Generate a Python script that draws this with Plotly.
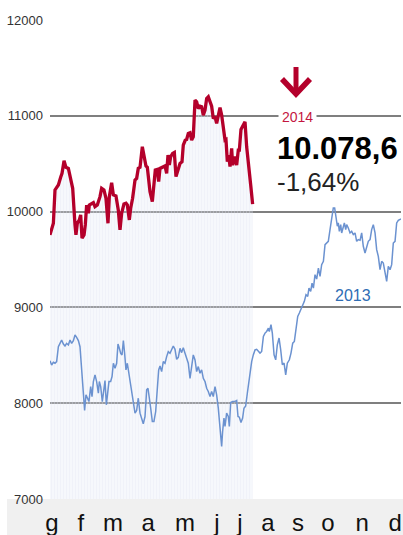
import plotly.graph_objects as go

# ---------------- data (day of year, index value) ----------------
days_2014 = [0.0, 3.5, 5.2, 6.9, 8.7, 11.1, 12.5, 14.6, 16.6, 19.1,
             21.5, 23.6, 26.0, 27.0, 28.4, 30.5, 31.9, 33.3, 35.4, 36.7,
             38.1, 39.9, 40.9, 43.3, 45.1, 46.8, 49.2, 52.0, 53.7, 56.1,
             58.2, 60.3, 61.7, 64.1, 65.9, 68.6, 71.0, 72.8, 74.5, 76.9,
             79.0, 80.4, 82.5, 83.9, 85.9, 88.4, 90.1, 91.8, 93.6, 96.0,
             97.7, 99.8, 101.2, 104.0, 106.4, 108.5, 109.5, 111.6, 113.0, 114.4,
             117.1, 119.6, 121.3, 122.7, 124.1, 125.5, 127.5, 129.3, 131.0, 133.1,
             135.2, 137.3, 138.6, 140.7, 142.1, 143.8, 145.6, 147.3, 149.0, 150.8,
             152.5, 154.2, 156.0, 157.7, 159.4, 161.2, 162.9, 164.6, 166.4, 168.1,
             169.8, 171.6, 173.3, 175.0, 176.8, 178.5, 180.2, 182.0, 183.0, 184.4,
             185.8, 187.2, 188.9, 189.9, 192.0, 194.1, 195.8, 196.9, 198.6, 201.0,
             202.8, 204.5, 206.6, 208.7, 210.7]
vals_2014 = [9757, 9878, 10226, 10260, 10278, 10358, 10399, 10531, 10462, 10451,
             10347, 10243, 9861, 9757, 9878, 9913, 9965, 9722, 9757, 9861,
             10069, 9983, 10069, 10087, 10094, 10052, 10069, 10156, 10243, 10226,
             10139, 9878, 10156, 10302, 10174, 10163, 10017, 9809, 9983, 10080,
             10087, 10069, 9913, 10035, 10139, 10330, 10347, 10451, 10462, 10677,
             10590, 10476, 10462, 10208, 10104, 10313, 10434, 10441, 10313, 10451,
             10462, 10476, 10399, 10590, 10486, 10573, 10608, 10618, 10365, 10434,
             10503, 10521, 10694, 10747, 10753, 10816, 10823, 10747, 10781, 11163,
             11146, 11076, 11100, 11094, 11007, 11059, 11181, 11198, 11146, 11100,
             10972, 10990, 10920, 11007, 11087, 11007, 10885, 10747, 10753, 10521,
             10590, 10469, 10660, 10486, 10573, 10486, 10642, 10642, 10858, 10903,
             10938, 10677, 10434, 10278, 10078.6]

days_2013 = [0.0, 1.7, 3.5, 5.2, 6.9, 8.7, 10.4, 12.1, 13.9, 15.6,
             17.3, 19.1, 20.8, 22.5, 24.3, 26.0, 27.7, 29.5, 31.2, 32.9,
             34.7, 36.0, 37.4, 38.8, 40.5, 42.3, 43.7, 45.1, 46.8, 48.5,
             50.3, 51.3, 52.7, 54.4, 56.1, 57.2, 58.6, 60.0, 61.3, 63.1,
             64.5, 65.9, 67.6, 69.3, 70.7, 72.1, 73.5, 74.9, 76.3, 77.6,
             79.0, 80.4, 81.8, 83.2, 84.9, 86.6, 88.4, 90.1, 91.8, 93.6,
             95.3, 97.0, 98.8, 100.5, 101.9, 103.3, 104.7, 106.4, 108.1, 109.9,
             111.6, 113.0, 114.4, 116.1, 117.8, 119.6, 121.3, 123.0, 124.8, 126.5,
             128.2, 130.0, 131.7, 133.4, 135.2, 136.9, 138.6, 140.4, 142.1, 143.8,
             145.6, 147.3, 149.0, 150.8, 152.5, 154.2, 156.0, 157.7, 159.4, 161.2,
             162.9, 164.6, 166.4, 168.1, 169.8, 171.6, 173.3, 175.0, 176.8, 178.5,
             179.5, 180.9, 182.0, 183.7, 185.4, 186.5, 187.9, 189.9, 192.0, 194.1,
             195.5, 196.9, 198.6, 200.3, 201.7, 203.5, 205.2, 207.3, 209.7, 211.4,
             213.2, 214.9, 216.6,
             218.4, 220.1, 221.9, 223.6, 225.3, 227.1, 228.1, 229.8, 231.2, 233.0,
             234.7, 236.4, 238.2, 239.9, 241.6, 243.4, 245.1, 246.8, 248.9, 250.6,
             252.4, 254.1, 255.8, 257.6, 259.3, 261.0, 262.8, 264.5, 266.2, 268.0,
             269.3, 271.1, 272.5, 273.9, 275.6, 277.3, 279.1, 280.8, 282.5, 284.3,
             286.0, 287.7, 289.4, 291.2, 292.9, 294.6, 296.0, 297.4, 298.8, 299.8,
             300.9, 302.3, 303.3, 304.7, 306.1, 307.5, 308.5, 310.2, 312.0, 313.7,
             315.4, 317.2, 318.9, 320.6, 322.4, 324.1, 325.8, 327.6, 329.3, 331.0,
             332.8, 334.5, 336.2, 338.0, 339.7, 341.4, 343.2, 344.9, 346.6, 348.4,
             350.1, 351.8, 353.6, 355.3, 357.0, 358.8, 360.5, 362.2, 365.0]
vals_2013 = [8444, 8399, 8427, 8417, 8434, 8590, 8625, 8660, 8618, 8597,
             8625, 8608, 8660, 8625, 8653, 8712, 8688, 8653, 8590, 8382,
             8104, 7924, 8087, 8052, 8017, 8174, 8069, 8226, 8295, 8226,
             8104, 8226, 8174, 8017, 8174, 8236, 7983, 8139, 8226, 8226,
             8278, 8417, 8365, 8417, 8618, 8573, 8521, 8504, 8653, 8521,
             8347, 8417, 8330, 8243, 8139, 8035, 7896, 7924, 8052, 7896,
             7826, 7785, 7861, 8139, 8156, 8069, 7948, 7809, 7809, 7913,
             8174, 8347, 8389, 8330, 8434, 8417, 8486, 8538, 8521, 8556,
             8597, 8562, 8458, 8479, 8573, 8528, 8580, 8521, 8469, 8417,
             8260, 8382, 8504, 8452, 8330, 8382, 8313, 8347, 8260, 8226,
             8156, 8122, 8069, 8122, 8069, 8174, 8087, 7948, 7740, 7549,
             7705, 7844, 7757, 7896, 7861, 7757, 8007, 8017, 8017, 8028,
             7861, 7854, 7799, 7844, 7948, 7972, 8104, 8260, 8434, 8504,
             8556, 8562, 8538,
             8523, 8540, 8697, 8732, 8749, 8784, 8749, 8819, 8732, 8505,
             8453, 8610, 8680, 8558, 8401, 8418, 8296, 8418, 8453, 8523,
             8627, 8645, 8784, 8906, 8941, 8976, 9028, 9063, 9132, 9115,
             9202, 9167, 9254, 9202, 9342, 9296, 9411, 9324, 9446, 9481,
             9655, 9672, 9690, 9812, 9951, 10038, 10038, 9951, 9847, 9882,
             9794, 9864, 9777, 9829, 9882, 9812, 9864, 9829, 9777, 9794,
             9760, 9777, 9690, 9707, 9700, 9777, 9638, 9568, 9620, 9690,
             9707, 9812, 9864, 9777, 9603, 9533, 9394, 9481, 9463, 9376,
             9272, 9429, 9394, 9446, 9672, 9690, 9882, 9909, 9923]

month_labels = ["g", "f", "m", "a", "m", "j", "j", "a", "s", "o", "n", "d"]
month_pos = [2, 32, 65.5, 102, 140.5, 173.5, 197.5, 226.5, 258, 289, 324.5, 359]
y_ticks = [7000, 8000, 9000, 10000, 11000, 12000]
change_text = "-1,64%"

# ---------------- layout constants ----------------
W, H = 403, 535
ML, MR, MT, MB = 50, 2, 20, 36
PW, PH = W - ML - MR, H - MT - MB

def pxx(x):
    return (x - ML) / PW

def pxy(y):
    return (H - MB - y) / PH

def fmt_it(v):
    s = f"{v:,.1f}"
    return s.replace(",", "X").replace(".", ",").replace("X", ".")

FONT = "Liberation Sans, Arial, Helvetica, sans-serif"
RED = "#b4002b"
BLUE = "#6b92d0"

fig = go.Figure()

# shaded area under 2014
fig.add_trace(go.Scatter(
    x=days_2014, y=vals_2014, mode="lines", fill="tozeroy",
    line=dict(width=0, color="rgba(0,0,0,0)"),
    fillcolor="#e4e9f5",
    fillpattern=dict(shape="|", size=3, solidity=0.72,
                     fgcolor="#e1e6f4", bgcolor="rgba(255,255,255,0)"),
    hoverinfo="skip", showlegend=False))

# 2013 line
fig.add_trace(go.Scatter(
    x=days_2013, y=vals_2013, mode="lines",
    line=dict(width=1.5, color=BLUE), showlegend=False))

# 2014 line
fig.add_trace(go.Scatter(
    x=days_2014, y=vals_2014, mode="lines",
    line=dict(width=3.3, color=RED), showlegend=False))

shapes = [
    dict(type="rect", xref="paper", yref="paper",
         x0=pxx(7), x1=pxx(W), y0=-MB / PH, y1=0,
         fillcolor="#f0f0f0", line=dict(width=0), layer="below"),
    dict(type="line", xref="paper", yref="paper",
         x0=pxx(296), x1=pxx(296), y0=pxy(67), y1=pxy(92),
         line=dict(color=RED, width=5)),
    dict(type="path", xref="paper", yref="paper",
         path=f"M{pxx(282)},{pxy(79)} L{pxx(296)},{pxy(94)} L{pxx(310)},{pxy(79)}",
         line=dict(color=RED, width=5.5)),
]

annotations = [
    dict(text="2014", x=pxx(297), y=pxy(117), xref="paper", yref="paper",
         showarrow=False, font=dict(family=FONT, size=14, color="#c4163f"),
         bgcolor="white", borderpad=3, xanchor="center", yanchor="middle"),
    dict(text="<b>" + fmt_it(vals_2014[-1]) + "</b>", x=pxx(275), y=pxy(149),
         xref="paper", yref="paper", showarrow=False,
         font=dict(family=FONT, size=31, color="#000"),
         xanchor="left", yanchor="middle"),
    dict(text=change_text, x=pxx(275), y=pxy(182), xref="paper", yref="paper",
         showarrow=False, font=dict(family=FONT, size=26, color="#222"),
         xanchor="left", yanchor="middle"),
    dict(text="2013", x=pxx(353), y=pxy(295), xref="paper", yref="paper",
         showarrow=False, font=dict(family=FONT, size=16, color="#2e6db4"),
         xanchor="center", yanchor="middle"),
]

fig.update_layout(
    width=W, height=H,
    margin=dict(l=ML, r=MR, t=MT, b=MB, pad=0, autoexpand=False),
    paper_bgcolor="white", plot_bgcolor="white",
    showlegend=False,
    shapes=shapes, annotations=annotations,
    xaxis=dict(range=[0, 365], tickvals=month_pos, ticktext=month_labels,
               showgrid=False, zeroline=False, showline=False, ticks="",
               ticklabelstandoff=7, automargin=False,
               tickfont=dict(family=FONT, size=24, color="#111"),
               fixedrange=True),
    yaxis=dict(range=[7000, 12000], tickvals=y_ticks, tickformat="d",
               showgrid=True, gridcolor="#7f7f7f", gridwidth=1.5,
               zeroline=False, showline=False, ticks="",
               ticklabelstandoff=6, automargin=False,
               tickfont=dict(family=FONT, size=13, color="#333"),
               fixedrange=True),
)

fig.write_html("out.html",
               config={"displayModeBar": False},
               post_script="document.body.style.margin='0';"
                           "document.body.style.overflow='hidden';")
